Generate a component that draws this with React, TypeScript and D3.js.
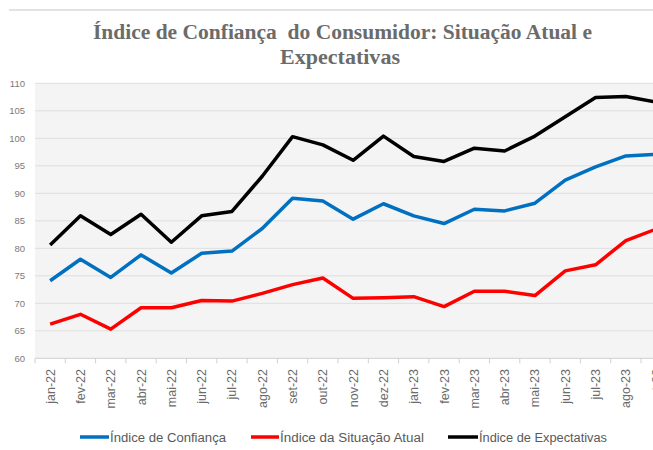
import React from "react";
import * as d3 from "d3";

const categories = ["jan-22","fev-22","mar-22","abr-22","mai-22","jun-22","jul-22","ago-22","set-22","out-22","nov-22","dez-22","jan-23","fev-23","mar-23","abr-23","mai-23","jun-23","jul-23","ago-23","set-23"];
const confianca = [74.1,78.0,74.7,78.8,75.5,79.1,79.5,83.6,89.1,88.6,85.3,88.1,85.9,84.5,87.1,86.8,88.2,92.4,94.8,96.8,97.1];
const situacaoAtual = [66.2,68.0,65.3,69.2,69.2,70.5,70.4,71.8,73.4,74.6,70.9,71.0,71.2,69.4,72.2,72.2,71.4,75.9,77.0,81.4,83.5];
const expectativas = [80.6,85.9,82.5,86.2,81.1,85.9,86.7,93.1,100.3,98.8,96.0,100.4,96.7,95.8,98.2,97.7,100.4,103.9,107.4,107.6,106.6];
const yTicks = [60,65,70,75,80,85,90,95,100,105,110];
const seriesNames = ["Índice de Confiança","Índice da Situação Atual","Índice de Expectativas"];
const seriesColors = ["#0070c0","#ff0000","#000000"];

const W = 653, H = 450;
const left = 35, top = 83.3, bottom = 358.3;
const step = 30.3;

export default function App() {
  const x = d3.scaleBand<string>().domain(categories).range([left, left + step * categories.length]).padding(0);
  const y = d3.scaleLinear().domain([60, 110]).range([bottom, top]);
  const cx = (c: string) => (x(c) as number) + x.bandwidth() / 2;
  const line = d3.line<number>().x((_, i) => cx(categories[i])).y(d => y(d));
  const series = [confianca, situacaoAtual, expectativas];
  const legendPos = [
    { lx: 80, tx: 109, tl: 116 },
    { lx: 251, tx: 279, tl: 144 },
    { lx: 448, tx: 478, tl: 128 },
  ];
  const font = "'Liberation Sans', Arial, sans-serif";
  return (
    <svg width={W} height={H} style={{ position: "absolute", left: 0, top: 0, background: "#fff" }}>
      <line x1={9} x2={W} y1={10} y2={10} stroke="#d9d9d9" strokeWidth={1.5} />
      <text x={93} y={39} textLength={499} lengthAdjust="spacingAndGlyphs" style={{ whiteSpace: "pre" }} fontFamily="'Liberation Serif', serif" fontWeight="bold" fontSize={20} fill="#6b6b6b">
        {"Índice de Confiança  do Consumidor: Situação Atual e"}
      </text>
      <text x={280} y={64} textLength={120} lengthAdjust="spacingAndGlyphs" fontFamily="'Liberation Serif', serif" fontWeight="bold" fontSize={20} fill="#6b6b6b">
        Expectativas
      </text>
      <rect x={left} y={top} width={W - left} height={bottom - top} fill="#f4f4f4" />
      {yTicks.map(t => (
        <g key={t}>
          {t > 60 && <line x1={left} x2={W} y1={y(t)} y2={y(t)} stroke="#dedede" strokeWidth={1} />}
          <text x={25} y={y(t) + 3.5} textAnchor="end" fontFamily={font} fontSize={9.5} fill="#7a7a7a">{t}</text>
        </g>
      ))}
      <line x1={left} x2={W} y1={bottom} y2={bottom} stroke="#d0d0d0" strokeWidth={1} />
      {categories.map((c) => (
        <g key={c}>
          <line x1={(x(c) as number)} x2={(x(c) as number)} y1={bottom} y2={bottom + 5} stroke="#d0d0d0" />
          <text transform={`translate(${cx(c) + 4.5},${369}) rotate(-90)`} textAnchor="end" fontFamily={font} fontSize={12.5} fill="#6b6b6b">{c}</text>
        </g>
      ))}
      {series.map((s, i) => (
        <path key={i} d={line(s) as string} fill="none" stroke={seriesColors[i]} strokeWidth={3.5} strokeLinejoin="round" />
      ))}
      {seriesNames.map((n, i) => (
        <g key={n}>
          <line x1={legendPos[i].lx} x2={legendPos[i].tx} y1={437} y2={437} stroke={seriesColors[i]} strokeWidth={3.5} />
          <text x={legendPos[i].tx + 1} y={441.5} textLength={legendPos[i].tl} lengthAdjust="spacingAndGlyphs" fontFamily={font} fontSize={12.5} fill="#595959">{n}</text>
        </g>
      ))}
    </svg>
  );
}
